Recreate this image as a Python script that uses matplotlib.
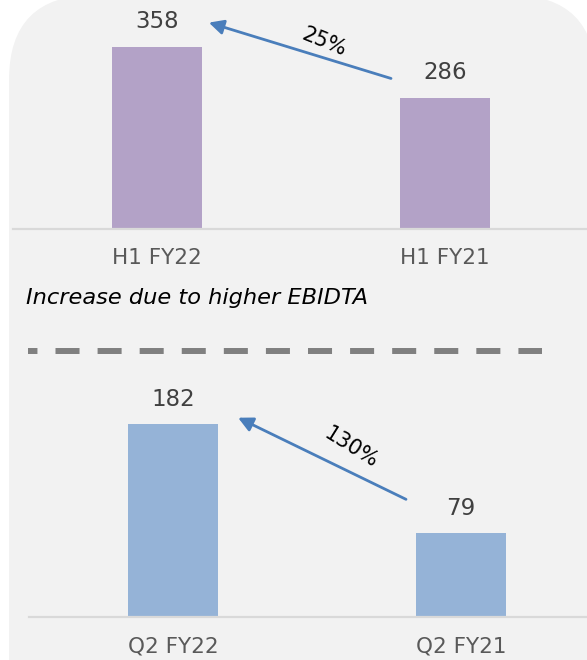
import matplotlib
matplotlib.use('Agg')
import matplotlib.pyplot as plt
from matplotlib.patches import FancyBboxPatch

plt.rcParams['font.family'] = ['DejaVu Sans']
plt.rcParams['lines.scale_dashes'] = False

# Half-year and quarter comparisons
h1_labels = ['H1 FY22', 'H1 FY21']
h1_values = [358, 286]
q2_labels = ['Q2 FY22', 'Q2 FY21']
q2_values = [182, 79]
note_text = 'Increase due to higher EBIDTA'

W, H = 587, 660
DPI = 100
fig = plt.figure(figsize=(W / DPI, H / DPI), dpi=DPI)
fig.patch.set_facecolor('white')

# background panel in pixel coordinates
bg = fig.add_axes([0, 0, 1, 1])
bg.set_xlim(0, W)
bg.set_ylim(H, 0)
bg.axis('off')
bg.add_patch(FancyBboxPatch((9, -5), 587, 850,
                            boxstyle='round,pad=0,rounding_size=85',
                            facecolor='#f2f2f2', edgecolor='none'))

VAL_COLOR = '#404040'
TICK_COLOR = '#595959'
ARROW_COLOR = '#4a7ebb'
AXIS_COLOR = '#d9d9d9'


def px_axes(left, right, top, bottom):
    return fig.add_axes([left / W, 1 - bottom / H, (right - left) / W, (bottom - top) / H])


def bar_panel(ax, labels, values, color, ylim, xlim):
    x = range(len(values))
    bars = ax.bar(x, values, width=0.3125, color=color, zorder=2)
    ax.set_xlim(*xlim)
    ax.set_ylim(*ylim)
    ax.patch.set_alpha(0)
    for s in ('top', 'right', 'left'):
        ax.spines[s].set_visible(False)
    ax.spines['bottom'].set_color(AXIS_COLOR)
    ax.spines['bottom'].set_linewidth(1.6)
    ax.set_yticks([])
    ax.set_xticks(list(x))
    ax.set_xticklabels(labels, fontsize=15.5, color=TICK_COLOR)
    ax.tick_params(axis='x', length=0, pad=14)
    for b, v in zip(bars, values):
        ax.annotate(f'{v}', (b.get_x() + b.get_width() / 2, v),
                    xytext=(0, 18), textcoords='offset points',
                    ha='center', va='center', fontsize=16.5, color=VAL_COLOR,
                    annotation_clip=False)


def growth_arrow(ax, head, tail, text_pos, rot, values):
    ax.annotate('', xy=head, xytext=tail,
                arrowprops=dict(arrowstyle='-|>', color=ARROW_COLOR, lw=2,
                                mutation_scale=22, shrinkA=0, shrinkB=0),
                annotation_clip=False)
    pct = (values[0] / values[1] - 1) * 100
    ax.text(*text_pos, f'{pct:.0f}%', rotation=rot, rotation_mode='anchor',
            ha='center', va='center', fontsize=15, color='black')


# top panel: first half
ax1 = px_axes(13, 587, 0, 229)
bar_panel(ax1, h1_labels, h1_values, '#b3a2c7', (100, 424), (-0.5, 1.493))
growth_arrow(ax1, (0.18, 392), (0.8125, 313), (0.58, 365), -22, h1_values)

# bottom panel: second quarter
ax2 = px_axes(29, 587, 370, 617)
bar_panel(ax2, q2_labels, q2_values, '#95b3d7', (0, 233), (-0.5, 1.4375))
growth_arrow(ax2, (0.226, 188), (0.809, 111), (0.62, 160), -32, q2_values)

# note and separator
bg.text(26, 298, note_text, fontsize=16.2, style='italic', color='black',
        ha='left', va='center')
bg.plot([28, 542], [351, 351], color='#808080', lw=4.3,
        linestyle=(10.5, (17.3, 13.0)), solid_capstyle='butt', dash_capstyle='butt')

fig.savefig('out.png', dpi=DPI, facecolor='white')
